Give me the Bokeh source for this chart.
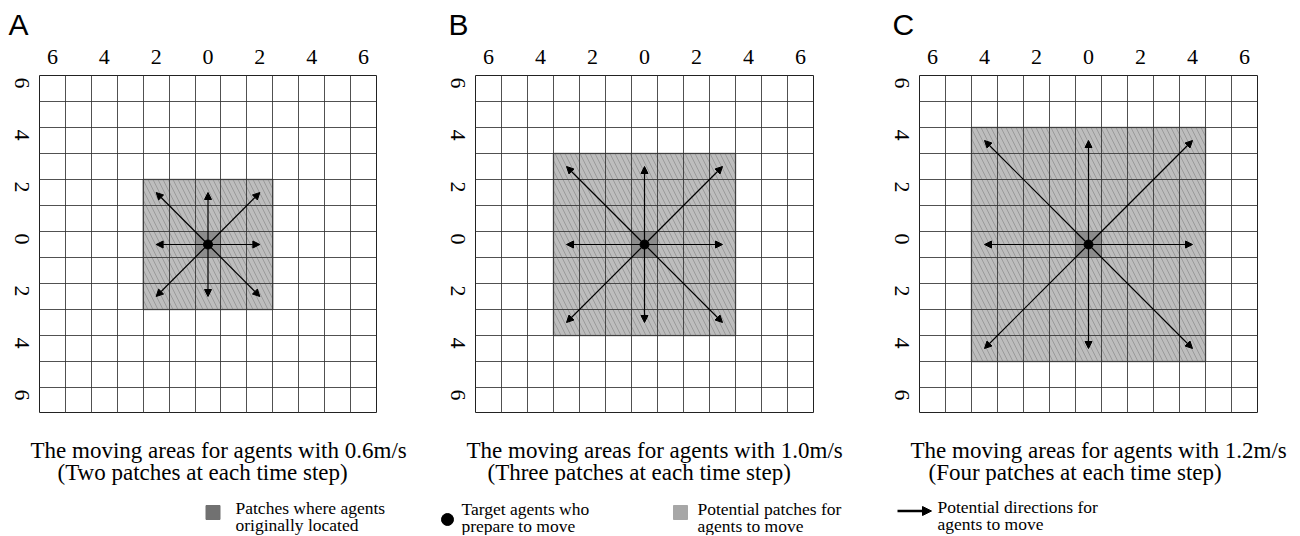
import numpy as np
from bokeh.plotting import figure
from bokeh.models import (Range1d, FixedTicker, Arrow, NormalHead, ColumnDataSource,
                          LinearAxis, Title)
from bokeh.layouts import row, column
from bokeh.embed import file_html
from bokeh.resources import INLINE
from bokeh.core.properties import value

# ---------------- data ----------------
panel_letters = ["A", "B", "C"]
speeds = ["0.6m/s", "1.0m/s", "1.2m/s"]
patch_words = ["Two", "Three", "Four"]
reach = [2, 3, 4]                      # patches an agent may move per time step
grid_half = 6                          # patches from centre to edge
tick_values = [-6, -4, -2, 0, 2, 4, 6]
tick_labels = ["6", "4", "2", "0", "2", "4", "6"]
dir_dx = [1, 1, 0, -1, -1, -1, 0, 1]   # eight movement directions
dir_dy = [0, 1, 1, 1, 0, -1, -1, -1]
legend_texts = [
    ["Patches where agents", "originally located"],
    ["Target agents who", "prepare to move"],
    ["Potential patches for", "agents to move"],
    ["Potential directions for", "agents to move"],
]

SERIF = "Liberation Serif"
SANS = "Liberation Sans"

# ---------------- layout (pixels) ----------------
frame_w = [337, 338, 338]
frame_h = 338
left_b = [39, 35, 35]
right_b = [64, 71, 39]
top_b = 75


def panel(i):
    lo, hi = -grid_half - 0.5, grid_half + 0.5
    p = figure(frame_width=frame_w[i], frame_height=frame_h,
               x_range=Range1d(lo, hi), y_range=Range1d(lo, hi),
               output_backend="svg", toolbar_location=None,
               x_axis_location=None, y_axis_location=None,
               min_border_left=left_b[i], min_border_right=right_b[i],
               min_border_top=top_b, min_border_bottom=0,
               background_fill_color="white", border_fill_color="white",
               outline_line_color="#222222", outline_line_width=1)
    p.title = Title(text=panel_letters[i], text_font=SANS, text_font_size="30px",
                    text_font_style="normal", align="left", standoff=11,
                    offset=-(left_b[i] - 8), text_color="black")

    r = reach[i]
    # potential patches
    p.quad(left=[-r - 0.5], right=[r + 0.5], bottom=[-r - 0.5], top=[r + 0.5],
           fill_color="#bdbdbd", line_color="#8a8a8a", line_width=1.5,
           hatch_pattern="\\", hatch_color="#9a9a9a", hatch_scale=10,
           hatch_weight=1)
    # original patch
    p.quad(left=[-0.5], right=[0.5], bottom=[-0.5], top=[0.5],
           fill_color="#8c8c8c", line_color=None)

    # grid lines on top
    edges = list(np.arange(lo, hi + 0.01, 1.0))
    p.xgrid.ticker = FixedTicker(ticks=edges)
    p.ygrid.ticker = FixedTicker(ticks=edges)
    for g in (p.xgrid, p.ygrid):
        g.grid_line_color = "#333333"
        g.grid_line_width = 1
        g.grid_line_alpha = 0.85
        g.level = "annotation"

    # arrows
    src = ColumnDataSource(dict(
        x0=[0] * len(dir_dx), y0=[0] * len(dir_dy),
        x1=[d * r for d in dir_dx], y1=[d * r for d in dir_dy]))
    p.add_layout(Arrow(end=NormalHead(size=7, fill_color="black", line_color="black"),
                       x_start="x0", y_start="y0", x_end="x1", y_end="y1",
                       source=src, line_color="black", line_width=1.2))
    # target agent
    p.scatter(x=[0], y=[0], size=9, color="black")

    ax_kw = dict(ticker=FixedTicker(ticks=tick_values),
                 major_label_overrides={v: l for v, l in zip(tick_values, tick_labels)},
                 axis_line_color=None, major_tick_line_color=None,
                 minor_tick_line_color=None,
                 major_label_text_font=SERIF, major_label_text_font_size="22px",
                 major_label_text_color="black")
    xa = LinearAxis(major_label_standoff=6, **ax_kw)
    p.add_layout(xa, "above")
    ya = LinearAxis(major_label_standoff=12, major_label_orientation=-np.pi / 2, **ax_kw)
    p.add_layout(ya, "left")
    return p


panels = [panel(i) for i in range(3)]

# ---------------- captions & legend ----------------
total_w = sum(left_b) + sum(frame_w) + sum(right_b)
bottom_top = top_b + frame_h
bottom_h = 535 - bottom_top
b = figure(frame_width=total_w, frame_height=bottom_h,
           x_range=Range1d(0, total_w), y_range=Range1d(bottom_top + bottom_h, bottom_top),
           output_backend="svg", toolbar_location=None,
           x_axis_location=None, y_axis_location=None,
           min_border=0, outline_line_color=None,
           background_fill_color="white", border_fill_color="white")
b.xgrid.visible = False
b.ygrid.visible = False

cap1 = [f"The moving areas for agents with {s}" for s in speeds]
cap2 = [f"({w} patches at each time step)" for w in patch_words]
b.text(x=[30, 466, 910], y=[450] * 3, text=cap1, text_font=value(SERIF),
       text_font_size="23px", text_baseline="alphabetic", text_align="left",
       text_color="black")
b.text(x=[57, 487, 928], y=[471.5] * 3, text=cap2, text_font=value(SERIF),
       text_font_size="23px", text_baseline="alphabetic", text_align="left",
       text_color="black")

# legend symbols
b.scatter(x=[212.5], y=[512], marker="square", size=14, color="#717171")
b.scatter(x=[447], y=[519], marker="circle", size=12, color="black")
b.scatter(x=[680], y=[512], marker="square", size=14, color="#a7a7a7")
b.add_layout(Arrow(end=NormalHead(size=9, fill_color="black", line_color="black"),
                   x_start=897, y_start=510.5, x_end=931, y_end=510.5,
                   line_color="black", line_width=2.5))
lx = [235, 461, 697, 937]
ly1 = [507, 508, 508, 506]
b.text(x=lx, y=ly1, text=[t[0] for t in legend_texts], text_font=value(SERIF),
       text_font_size="17.5px", text_baseline="alphabetic", text_color="black")
b.text(x=lx, y=[v + 17.5 for v in ly1], text=[t[1] for t in legend_texts],
       text_font=value(SERIF), text_font_size="17.5px", text_baseline="alphabetic",
       text_color="black")

layout = column(row(*panels, spacing=0), b, spacing=0)
open("out.html", "w").write(file_html(layout, INLINE))
